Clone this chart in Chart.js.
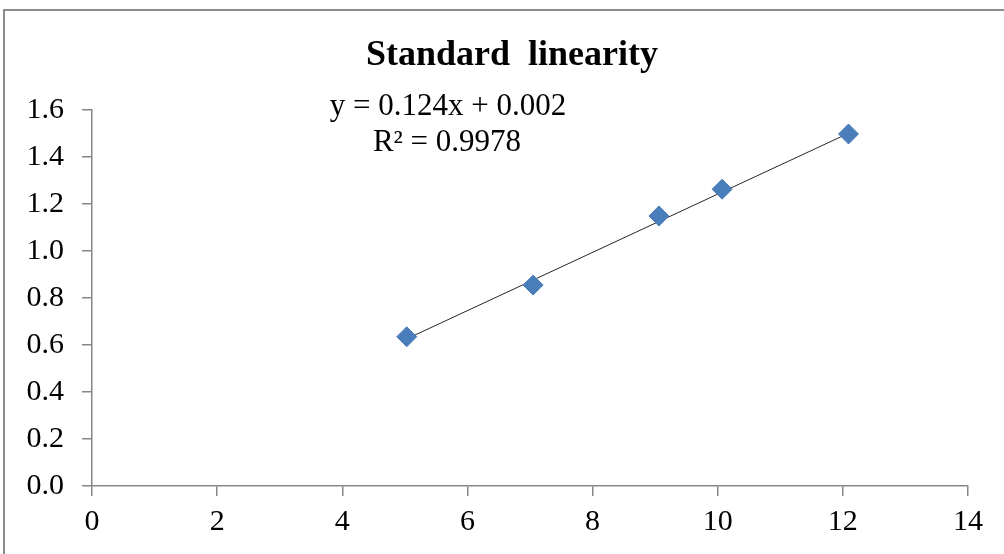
<!DOCTYPE html>
<html>
<head>
<meta charset="utf-8">
<script src="https://cdn.jsdelivr.net/npm/chart.js@4"></script>
<style>
  body { margin: 0; background: #fff; }
  #wrap { width: 1004px; height: 554px; }
</style>
</head>
<body>
<div id="wrap"><canvas id="myChart"></canvas></div>
<script>
// data
const concX = [5.03, 7.05, 9.06, 10.07, 12.09];
const absY = [0.635, 0.855, 1.149, 1.263, 1.498];
const trendX = [5.03, 12.09];
const trendY = [0.626, 1.501];
const xTicks = [0, 2, 4, 6, 8, 10, 12, 14];
const yTicks = [0, 0.2, 0.4, 0.6, 0.8, 1.0, 1.2, 1.4, 1.6];
const title = "Standard  linearity";
const equation = ["y = 0.124x + 0.002", "R\u00B2 = 0.9978"];

const serif = "'Liberation Serif', 'Times New Roman', serif";
const axisGrey = '#868686';

// frame, title and trendline label (the title is drawn here so it can sit off-centre like the original)
const frame = {
    id: 'frame',
    beforeDraw(chart) {
        const ctx = chart.ctx;
        ctx.save();
        ctx.fillStyle = '#fff';
        ctx.fillRect(0, 0, chart.width, chart.height);
        ctx.strokeStyle = '#8c8c8c';
        ctx.lineWidth = 2;
        ctx.strokeRect(4, 10, 1100, 700);
        ctx.restore();
    },
    afterDraw(chart) {
        const ctx = chart.ctx;
        const a = chart.chartArea;
        ctx.save();
        ctx.fillStyle = '#000';
        ctx.textAlign = 'center';
        ctx.textBaseline = 'middle';
        ctx.font = 'bold 36px ' + serif;
        ctx.fillText(title, 512, 56);
        ctx.font = '31px ' + serif;
        ctx.fillText(equation[0], a.left + 356, a.top - 3);
        ctx.fillText(equation[1], a.left + 355, a.top + 33);
        ctx.restore();
    }
};

const points = concX.map((x, i) => ({x: x, y: absY[i]}));
const trend = trendX.map((x, i) => ({x: x, y: trendY[i]}));

new Chart(document.getElementById('myChart').getContext('2d'), {
    type: 'scatter',
    data: {
        datasets: [
            {
                data: trend,
                showLine: true,
                borderColor: '#262626',
                borderWidth: 1,
                pointRadius: 0,
                order: 2
            },
            {
                data: points,
                pointStyle: 'rectRot',
                pointRadius: 10,
                pointHoverRadius: 10,
                backgroundColor: '#4a7ebb',
                borderColor: '#4a7ebb',
                borderWidth: 1,
                order: 1
            }
        ]
    },
    options: {
        responsive: true,
        maintainAspectRatio: false,
        animation: false,
        events: [],
        layout: { padding: { left: 0, right: 36, top: 110, bottom: 0 } },
        plugins: {
            legend: { display: false },
            tooltip: { enabled: false },
            title: { display: false }
        },
        scales: {
            x: {
                type: 'linear',
                min: 0,
                max: 14,
                afterBuildTicks(scale) { scale.ticks = xTicks.map(v => ({value: v})); },
                afterFit(scale) { scale.height = 68; },
                ticks: {
                    color: '#000',
                    font: { family: serif, size: 30 },
                    padding: 8,
                    maxRotation: 0
                },
                grid: { drawOnChartArea: false, tickLength: 10, color: axisGrey, lineWidth: 1.5 },
                border: { color: axisGrey, width: 1.5 }
            },
            y: {
                type: 'linear',
                min: 0,
                max: 1.6,
                afterBuildTicks(scale) { scale.ticks = yTicks.map(v => ({value: v})); },
                afterFit(scale) { scale.width = 92; },
                ticks: {
                    color: '#000',
                    font: { family: serif, size: 30 },
                    padding: 18,
                    callback: v => v.toFixed(1)
                },
                grid: { drawOnChartArea: false, tickLength: 10, color: axisGrey, lineWidth: 1.5 },
                border: { color: axisGrey, width: 1.5 }
            }
        }
    },
    plugins: [frame]
});
</script>
</body>
</html>
